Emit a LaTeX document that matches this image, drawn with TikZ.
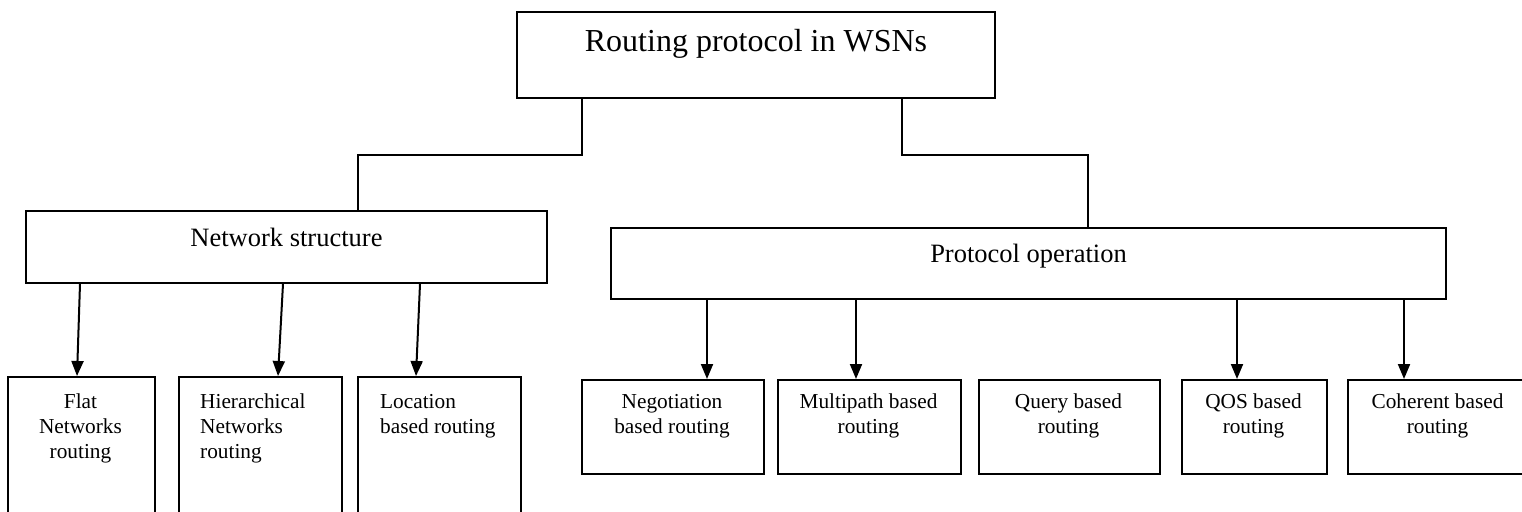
\documentclass[tikz,border=0pt]{standalone}
\usepackage{fontspec}
\setmainfont{Liberation Serif}
\usetikzlibrary{arrows.meta}
\tikzset{
  box/.style={draw, line width=1.8pt, inner sep=0pt, rectangle},
  conn/.style={line width=1.4pt},
  arr/.style={line width=2pt, -{Triangle[length=15pt,width=12pt]}},
  small/.style={font=\fontsize{21.3}{25}\selectfont, inner sep=0pt},
}
\begin{document}
\begin{tikzpicture}[x=1pt,y=-1pt]
\useasboundingbox (0,0) rectangle (1522,511);
\clip (0,0) rectangle (1522,511);
\fill[white] (0,0) rectangle (1522,511);
% top level
\node[box, minimum width=478pt, minimum height=86pt] (top) at (756,55) {};
\node[anchor=base, inner sep=0pt, font=\fontsize{32}{38}\selectfont] (toptxt) at (756,52) {Routing protocol in WSNs};
% second level
\node[box, minimum width=521pt, minimum height=72pt] (ns) at (286.5,247) {};
\node[anchor=base, inner sep=0pt, font=\fontsize{26.5}{32}\selectfont] (nstxt) at (286.5,246) {Network structure};
\node[box, minimum width=835pt, minimum height=71pt] (po) at (1028.5,263.5) {};
\node[anchor=base, inner sep=0pt, font=\fontsize{26.5}{32}\selectfont] (potxt) at (1028.5,262) {Protocol operation};
% connectors
\draw[conn] (top.south -| 582,0) |- (358,155) -- (ns.north -| 358,0);
\draw[conn] (top.south -| 902,0) |- (1088,155) -- (po.north -| 1088,0);
% bottom boxes, network structure
\node[box, minimum width=147pt, minimum height=160pt, anchor=north west] (flat) at (7,376) {};
\node[box, minimum width=163pt, minimum height=160pt, anchor=north west] (hier) at (178,376) {};
\node[box, minimum width=163pt, minimum height=160pt, anchor=north west] (loc) at (357,376) {};
\node[small, anchor=north, align=center] (flattxt) at (80.5,394) {Flat\\Networks\\routing};
\node[small, anchor=north west, align=left] (hiertxt) at (200,394) {Hierarchical\\Networks\\routing};
\node[small, anchor=north west, align=left] (loctxt) at (380,394) {Location\\based routing};
% bottom boxes, protocol operation
\node[box, minimum width=182pt, minimum height=94pt, anchor=north west] (neg) at (581,379) {};
\node[box, minimum width=183pt, minimum height=94pt, anchor=north west] (mult) at (777,379) {};
\node[box, minimum width=181pt, minimum height=94pt, anchor=north west] (query) at (978,379) {};
\node[box, minimum width=145pt, minimum height=94pt, anchor=north west] (qos) at (1181,379) {};
\node[box, minimum width=181pt, minimum height=94pt, anchor=north west] (coh) at (1347,379) {};
\node[small, anchor=north, align=center] (negtxt) at (672,394) {Negotiation\\based routing};
\node[small, anchor=north, align=center] (multtxt) at (868.5,394) {Multipath based\\routing};
\node[small, anchor=north, align=center] (querytxt) at (1068.5,394) {Query based\\routing};
\node[small, anchor=north, align=center] (qostxt) at (1253.5,394) {QOS based\\routing};
\node[small, anchor=north, align=center] (cohtxt) at (1437.5,394) {Coherent based\\routing};
% arrows
\draw[arr] (ns.south -| 80,0) -- (flat.north -| 77,0);
\draw[arr] (ns.south -| 283,0) -- (hier.north -| 278,0);
\draw[arr] (ns.south -| 420,0) -- (loc.north -| 416,0);
\draw[arr] (po.south -| 707,0) -- (neg.north -| 707,0);
\draw[arr] (po.south -| 856,0) -- (mult.north -| 856,0);
\draw[arr] (po.south -| 1237,0) -- (qos.north -| 1237,0);
\draw[arr] (po.south -| 1404,0) -- (coh.north -| 1404,0);
\end{tikzpicture}
\end{document}
